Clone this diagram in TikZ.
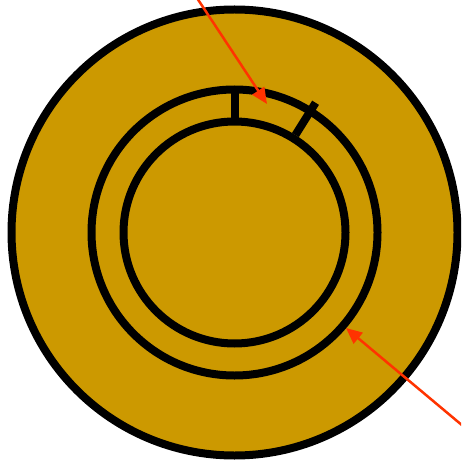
\documentclass[tikz,border=0pt]{standalone}
\usepackage{xcolor}
\usepackage{tikz}
\usetikzlibrary{arrows.meta, calc}
\definecolor{mygold}{RGB}{204,153,0}
\definecolor{myred}{RGB}{255,51,0}
\tikzset{
  ring/.style={draw=black, line width=0.16cm},
  tick/.style={draw=black, line width=0.16cm},
  pointer/.style={-{Triangle[length=0.32cm, width=0.28cm]}, line width=0.05cm, color=myred}
}

\begin{document}
\begin{tikzpicture}[x=0.02cm, y=-0.02cm]
  \useasboundingbox (0,0) rectangle (461,462);
  \clip (0,0) rectangle (461,462);
  \coordinate (c) at (234.5,232.5);
  % rings
  \draw[ring, fill=mygold] (c) circle[radius=223];
  \draw[ring] (c) circle[radius=143];
  \draw[ring] (c) circle[radius=111];
  % ticks between rings
  \draw[tick] ($(c)+(0,-112)$) -- ($(c)+(0,-143)$);
  \draw[tick] ($(c)+(-58:115)$) -- ($(c)+(-58:153)$);
  % pointers
  \coordinate (p1s) at (197,-2);
  \coordinate (p1e) at (267,104);
  \coordinate (p2s) at (463,426);
  \coordinate (p2e) at (346,328);
  \draw[pointer] (p1s) -- (p1e);
  \draw[pointer] (p2s) -- (p2e);
\end{tikzpicture}
\end{document}
